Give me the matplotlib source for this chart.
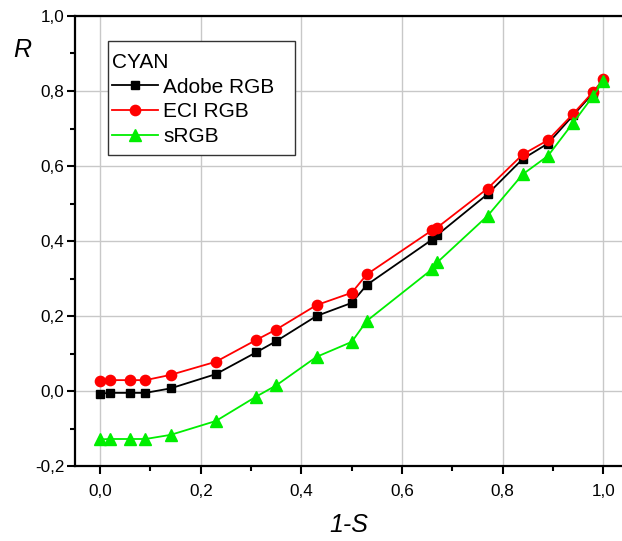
import matplotlib
matplotlib.use("Agg")
import matplotlib.pyplot as plt
from matplotlib.patches import Rectangle
from matplotlib.ticker import MultipleLocator, FixedLocator

plt.rcParams['font.family'] = ['Liberation Sans', 'DejaVu Sans']

# 1-S values shared by all three colour spaces
x_vals = [0.0, 0.02, 0.06, 0.09, 0.14, 0.23, 0.31, 0.35, 0.43, 0.50, 0.53,
          0.66, 0.67, 0.77, 0.84, 0.89, 0.94, 0.98, 1.0]

adobe_rgb = [-0.007, -0.005, -0.005, -0.005, 0.007, 0.045, 0.103, 0.133, 0.200,
             0.235, 0.283, 0.404, 0.416, 0.525, 0.619, 0.660, 0.735, 0.795, 0.828]
eci_rgb = [0.027, 0.029, 0.029, 0.029, 0.043, 0.078, 0.136, 0.164, 0.229,
           0.262, 0.311, 0.429, 0.436, 0.540, 0.631, 0.669, 0.739, 0.798, 0.831]
srgb = [-0.129, -0.128, -0.128, -0.128, -0.117, -0.080, -0.015, 0.015, 0.091,
        0.131, 0.187, 0.325, 0.343, 0.467, 0.578, 0.627, 0.715, 0.787, 0.827]

series_names = ["Adobe RGB", "ECI RGB", "sRGB"]
legend_title = "CYAN"

x_ticks = [0.0, 0.2, 0.4, 0.6, 0.8, 1.0]
x_tick_labels = ["0,0", "0,2", "0,4", "0,6", "0,8", "1,0"]
y_ticks = [-0.2, 0.0, 0.2, 0.4, 0.6, 0.8, 1.0]
y_tick_labels = ["-0,2", "0,0", "0,2", "0,4", "0,6", "0,8", "1,0"]

fig = plt.figure(figsize=(6.22, 5.41), dpi=100)
ax = fig.add_axes([75 / 622, 1 - 466 / 541, 1 - 75 / 622, (466 - 16) / 541])

ax.plot(x_vals, adobe_rgb, color="black", lw=1.3, marker="s", ms=6.2,
        label=series_names[0], zorder=3)
ax.plot(x_vals, eci_rgb, color="#ff0000", lw=1.3, marker="o", ms=7.4,
        label=series_names[1], zorder=3)
ax.plot(x_vals, srgb, color="#00ee00", lw=1.3, marker="^", ms=8.0,
        label=series_names[2], zorder=3)

ax.set_xlim(-0.05, (622 - 100.3) / 503)
ax.set_ylim(-0.2, 1.0)

ax.xaxis.set_major_locator(FixedLocator(x_ticks))
ax.set_xticklabels(x_tick_labels)
ax.yaxis.set_major_locator(FixedLocator(y_ticks))
ax.set_yticklabels(y_tick_labels)
ax.xaxis.set_minor_locator(MultipleLocator(0.1))
ax.yaxis.set_minor_locator(MultipleLocator(0.1))

ax.grid(True, which="major", color="#c8c8c8", lw=1.0, zorder=0)
ax.set_axisbelow(True)

for side in ("left", "bottom", "top"):
    ax.spines[side].set_linewidth(1.6)
ax.spines["right"].set_visible(False)

ax.tick_params(which="major", direction="out", length=6, width=1.5,
               labelsize=12.3, top=False, right=False)
ax.tick_params(which="minor", direction="out", length=3.3, width=1.5,
               top=False, right=False)
ax.tick_params(axis="y", which="major", pad=1.5)
ax.tick_params(axis="x", which="major", pad=7)

ax.set_xlabel("1-S", fontsize=18, style="italic", labelpad=10)
fig.text(22 / 622, 1 - 50 / 541, "R", fontsize=18, style="italic",
         ha="center", va="center")

# legend content without its own frame; the box is drawn separately
leg = ax.legend(title=legend_title, loc="upper left",
                bbox_to_anchor=((112 - 75) / 547, 1 - (53 - 16) / 450),
                fontsize=15, title_fontsize=15, frameon=False,
                handlelength=2.2, handletextpad=0.25,
                borderpad=0, labelspacing=0.27, borderaxespad=0)
leg._legend_box.align = "left"
leg.set_zorder(5)

box = Rectangle(((108 - 75) / 547, 1 - (155 - 16) / 450),
                (295 - 108) / 547, (155 - 41) / 450,
                transform=ax.transAxes, facecolor="white",
                edgecolor="#333333", lw=1.0, zorder=4)
ax.add_patch(box)

fig.savefig("out.png", dpi=100)
